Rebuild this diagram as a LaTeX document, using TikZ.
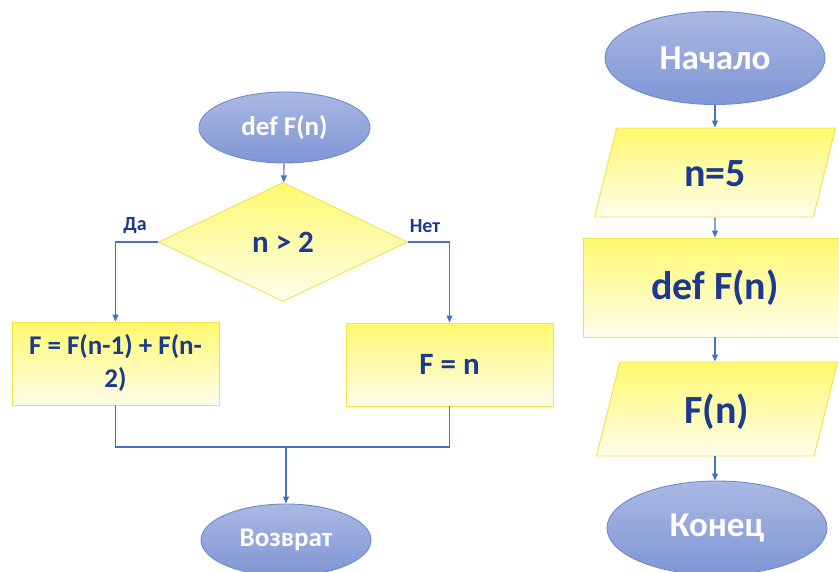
\documentclass[tikz,border=0pt]{standalone}
\usepackage{fontspec}
\setmainfont{Carlito}
\usepackage{tikz}
\usetikzlibrary{arrows.meta,positioning,shapes.geometric}
\definecolor{ovaltop}{HTML}{AAB8E2}
\definecolor{ovalbot}{HTML}{7F96D5}
\definecolor{ovalline}{HTML}{6C8BCF}
\definecolor{boxtop}{HTML}{FFF96E}
\definecolor{boxmid}{HTML}{FFF385}
\definecolor{boxbot}{HTML}{FFFDEC}
\definecolor{boxline}{HTML}{F2E24A}
\definecolor{ink}{HTML}{1B3A8E}
\definecolor{flow}{HTML}{4472C4}
\newcommand{\fsz}[2]{\fontsize{#1}{#2}\selectfont\bfseries}

\begin{document}
\begin{tikzpicture}[x=1pt,y=-1pt,
  oval/.style={ellipse,draw=ovalline,line width=0.9pt,top color=ovaltop,
    bottom color=ovalbot,text=white,inner sep=0pt},
  proc/.style={rectangle,draw=boxline,line width=0.9pt,top color=boxtop,
    middle color=boxmid,bottom color=boxbot,text=ink,inner sep=0pt,align=center},
  cond/.style={diamond,draw=boxline,line width=0.9pt,top color=boxtop,
    middle color=boxmid,bottom color=boxbot,text=ink,inner sep=0pt,aspect=2},
  io/.style={trapezium,trapezium left angle=76,trapezium right angle=104,
    trapezium stretches body,draw=boxline,line width=0.9pt,top color=boxtop,
    middle color=boxmid,bottom color=boxbot,text=ink,inner xsep=0pt,
    text height=33pt,text depth=5pt},
  line/.style={flow,line width=1.1pt},
  arr/.style={line,-{Triangle[length=7pt,width=6pt]}}]
  \useasboundingbox (0,0) rectangle (839,571);
  \clip (0,0) rectangle (839,571);

  % Function body
  \node[oval,minimum width=171,minimum height=71,font=\fsz{27}{32}]
    (fdef) at (284.5,127.5) {def F(n)};
  \node[cond,minimum width=249,minimum height=119,font=\fsz{31}{36}]
    (test) at (283,242) {n > 2};
  \node[proc,minimum width=207,minimum height=83,font=\fsz{27}{33}]
    (rec) at (115.5,363.5) {F = F(n-1) + F(n-\\2)};
  \node[proc,minimum width=207,minimum height=83,font=\fsz{31}{36}]
    (base) at (449.5,364.5) {F = n};
  \node[oval,minimum width=170,minimum height=72,font=\fsz{27}{32}]
    (ret) at (286,540) {Возврат};
  \node[text=ink,font=\fsz{20}{24}] (yes) at (135,226) {Да};
  \node[text=ink,font=\fsz{20}{24}] (no) at (425,226) {Нет};
  \coordinate (join) at (286,447);

  \draw[arr] (fdef) -- (test);
  \draw[arr] (test.west) -| (rec.north);
  \draw[arr] (test.east) -| (base.north);
  \draw[line] (rec.south) |- (join) -| (base.south);
  \draw[arr] (join) -- (ret);

  % Main program
  \node[oval,minimum width=220,minimum height=93,font=\fsz{35}{40}]
    (start) at (715,58) {Начало};
  \node[io,inner ysep=25.5pt,minimum width=241,font=\fsz{40}{46}]
    (input) at (715,172.5) {n=5};
  \node[proc,minimum width=264,minimum height=99,font=\fsz{40}{46}]
    (call) at (715,287.5) {def F(n)};
  \node[io,inner ysep=28pt,minimum width=241,font=\fsz{40}{46}]
    (output) at (717,409) {F(n)};
  \node[oval,minimum width=220,minimum height=94,font=\fsz{35}{40}]
    (stop) at (717,528) {Конец};

  \draw[arr] (start) -- (start |- input.north);
  \draw[arr] (input) -- (input |- call.north);
  \draw[arr] (call) -- (call |- output.north);
  \draw[arr] (call.south |- output.south) -- (call.south |- stop.north);
\end{tikzpicture}
\end{document}
